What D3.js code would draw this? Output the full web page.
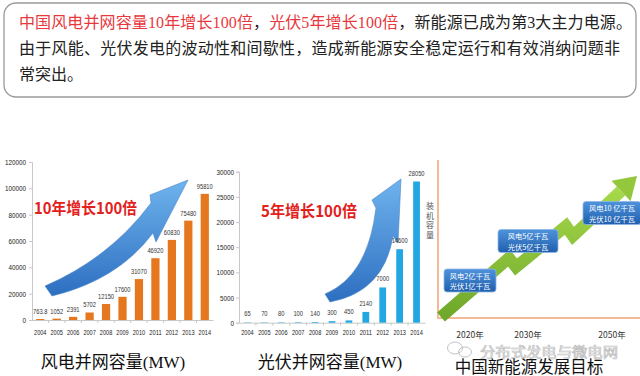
<!DOCTYPE html>
<html>
<head>
<meta charset="utf-8">
<script src="https://cdnjs.cloudflare.com/ajax/libs/d3/7.8.5/d3.min.js"></script>
<style>
  body { margin: 0; background: #fff; }
  svg { display: block; }
</style>
</head>
<body>
<div id="chart"></div>
<script>
// Data
const years = ["2004", "2005", "2006", "2007", "2008", "2009", "2010", "2011", "2012", "2013", "2014"];
const windValues = [763.8, 1052, 2391, 5702, 12150, 17600, 31070, 46920, 60830, 75480, 95810];
const pvValues = [65, 70, 80, 100, 140, 300, 450, 2140, 7000, 14600, 28050];
const windTicks = [0, 20000, 40000, 60000, 80000, 100000, 120000];
const pvTicks = [0, 5000, 10000, 15000, 20000, 25000, 30000];
const goalYears = [2020, 2030, 2050];
const goalWind = ["风电2亿千瓦", "风电5亿千瓦", "风电10 亿千瓦"];
const goalPv = ["光伏1亿千瓦", "光伏5亿千瓦", "光伏10 亿千瓦"];

const W = 640, H = 376;
const svg = d3.select("#chart").append("svg")
  .attr("width", W)
  .attr("height", H);

const cjk = "'Noto Sans CJK SC', sans-serif";
const textFont = "'Liberation Serif', 'Noto Sans CJK SC', serif";

// squeeze small labels so they look like a condensed font
function narrow(sel, perChar) {
  sel.attr("font-family", "'Liberation Sans', sans-serif")
    .style("font-size", "8px")
    .attr("lengthAdjust", "spacingAndGlyphs")
    .attr("textLength", function() {
      const t = this.textContent;
      return (t.replace(".", "").length + (t.includes(".") ? 0.5 : 0)) * perChar;
    });
}

const defs = svg.append("defs");

const blueGrad = defs.append("linearGradient")
  .attr("id", "blueArrow")
  .attr("x1", "0").attr("y1", "0").attr("x2", "0").attr("y2", "1");
blueGrad.append("stop").attr("offset", "0").attr("stop-color", "#6fb3ee");
blueGrad.append("stop").attr("offset", "1").attr("stop-color", "#2d6fc0");

const greenGrad = defs.append("linearGradient")
  .attr("id", "greenArrow")
  .attr("x1", "0").attr("y1", "0").attr("x2", "0").attr("y2", "1");
greenGrad.append("stop").attr("offset", "0").attr("stop-color", "#a6d84a");
greenGrad.append("stop").attr("offset", "1").attr("stop-color", "#6ea82a");

const boxGrad = defs.append("linearGradient")
  .attr("id", "boxGrad")
  .attr("x1", "0").attr("y1", "0").attr("x2", "0").attr("y2", "1");
boxGrad.append("stop").attr("offset", "0").attr("stop-color", "#4f93dc");
boxGrad.append("stop").attr("offset", "1").attr("stop-color", "#1f5fae");

// Top text box
svg.append("rect")
  .attr("x", 4).attr("y", 3)
  .attr("width", 632).attr("height", 94)
  .attr("rx", 12)
  .attr("fill", "#fff")
  .attr("stroke", "#9a9a9a")
  .attr("stroke-width", 1.3);

const line1 = svg.append("text")
  .attr("x", 19).attr("y", 28)
  .attr("font-family", textFont)
  .attr("font-size", 16)
  .attr("textLength", 613)
  .attr("lengthAdjust", "spacing");
line1.append("tspan").attr("fill", "#e8383d").text("中国风电并网容量10年增长100倍");
line1.append("tspan").attr("fill", "#222").text("，");
line1.append("tspan").attr("fill", "#e8383d").text("光伏5年增长100倍");
line1.append("tspan").attr("fill", "#222").text("，新能源已成为第3大主力电源。");

svg.append("text")
  .attr("x", 19).attr("y", 54)
  .attr("font-family", textFont)
  .attr("font-size", 16)
  .attr("fill", "#222")
  .attr("textLength", 601)
  .attr("lengthAdjust", "spacing")
  .text("由于风能、光伏发电的波动性和间歇性，造成新能源安全稳定运行和有效消纳问题非");

svg.append("text")
  .attr("x", 19).attr("y", 80)
  .attr("font-family", textFont)
  .attr("font-size", 16)
  .attr("fill", "#222")
  .text("常突出。");

// Bar chart helper
function drawBars(cfg) {
  const g = svg.append("g");

  const x = d3.scaleBand()
    .domain(years)
    .range([cfg.x0, cfg.x1])
    .paddingInner(cfg.pad)
    .paddingOuter(cfg.pad / 2);

  const y = d3.scaleLinear()
    .domain([0, cfg.ticks[cfg.ticks.length - 1]])
    .range([cfg.y0, cfg.y1]);

  // arrow behind bars
  g.append("path")
    .attr("d", cfg.arrow)
    .attr("fill", "url(#blueArrow)")
    .attr("stroke", "#4a86c8")
    .attr("stroke-width", 0.6);

  // y axis
  const yAxis = g.append("g")
    .attr("transform", `translate(${cfg.x0},0)`)
    .call(d3.axisLeft(y).tickValues(cfg.ticks).tickFormat(d3.format("d")).tickSize(3).tickPadding(cfg.yPad));
  yAxis.selectAll("path, line").attr("stroke", "#c8c8c8");
  yAxis.selectAll("text").attr("fill", "#222").call(narrow, 3.5);

  // x axis
  const xAxis = g.append("g")
    .attr("transform", `translate(0,${cfg.y0})`)
    .call(d3.axisBottom(x).tickSize(0).tickPadding(cfg.xPad));
  xAxis.select("path").attr("stroke", "#c8c8c8");
  xAxis.selectAll("text").attr("fill", "#222").call(narrow, 3.1);

  g.selectAll(".sep")
    .data(years.slice(1))
    .join("line")
    .attr("x1", d => x(d) - x.step() * x.paddingInner() / 2)
    .attr("x2", d => x(d) - x.step() * x.paddingInner() / 2)
    .attr("y1", cfg.y0)
    .attr("y2", cfg.y0 + 3)
    .attr("stroke", "#c8c8c8");

  // bars
  const vals = years.map((yr, i) => ({ year: yr, value: cfg.values[i] }));
  g.selectAll(".bar")
    .data(vals)
    .join("rect")
    .attr("x", d => x(d.year))
    .attr("y", d => y(d.value))
    .attr("width", x.bandwidth())
    .attr("height", d => cfg.y0 - y(d.value))
    .attr("fill", cfg.color);

  g.selectAll(".val")
    .data(vals)
    .join("text")
    .attr("x", d => x(d.year) + x.bandwidth() / 2)
    .attr("y", d => y(d.value) - cfg.labelGap)
    .attr("text-anchor", "middle")
    .attr("fill", "#333")
    .text(d => String(d.value))
    .call(narrow, 3.2);

  // big red annotation
  g.append("text")
    .attr("x", cfg.noteX).attr("y", cfg.noteY)
    .attr("font-family", cjk)
    .attr("font-weight", "bold")
    .attr("font-size", 16)
    .attr("fill", "#e3211c")
    .attr("textLength", cfg.noteLen)
    .attr("lengthAdjust", "spacingAndGlyphs")
    .text(cfg.note);

  // chart title
  g.append("text")
    .attr("x", cfg.titleX).attr("y", 368)
    .attr("text-anchor", "middle")
    .attr("font-family", textFont)
    .attr("font-size", 17)
    .attr("fill", "#111")
    .text(cfg.title);

  return { x, y };
}

drawBars({
  x0: 32, x1: 213, y0: 320, y1: 162, pad: 0.5,
  ticks: windTicks, values: windValues, color: "#e5771e",
  yPad: 3, xPad: 9, labelGap: 5,
  arrow: "M45,286 Q110,258 151,203 L150,195 L188,180 L156,242 L153,233 Q118,280 52,296 Z",
  note: "10年增长100倍", noteX: 34, noteY: 214, noteLen: 103,
  title: "风电并网容量(MW)", titleX: 113
});

drawBars({
  x0: 239, x1: 425, y0: 322.7, y1: 171.7, pad: 0.6,
  ticks: pvTicks, values: pvValues, color: "#22a7e2",
  yPad: 2, xPad: 7, labelGap: 6,
  arrow: "M325,294 Q368,276 376,208 L372,200 L401,179 L398,243 L393,236 Q384,292 330,302 Z",
  note: "5年增长100倍", noteX: 261, noteY: 217, noteLen: 96,
  title: "光伏并网容量(MW)", titleX: 330
});

// vertical label 装机容量
svg.append("g")
  .selectAll("text")
  .data("装机容量".split(""))
  .join("text")
  .attr("x", 430)
  .attr("y", (d, i) => 209 + i * 9.5)
  .attr("text-anchor", "middle")
  .attr("font-family", cjk)
  .attr("font-size", 8)
  .attr("fill", "#555")
  .text(d => d);

// Third panel: development goals
const goalX = d3.scaleLinear().domain(goalYears).range([470, 528, 612]);
const goalY = d3.scaleLinear().domain(goalYears).range([280.5, 241, 213]);

const p3 = svg.append("g");
p3.append("line")
  .attr("x1", 438).attr("x2", 438).attr("y1", 160).attr("y2", 318)
  .attr("stroke", "#f5b995").attr("stroke-width", 2);
p3.append("line")
  .attr("x1", 437).attr("x2", 640).attr("y1", 318).attr("y2", 318)
  .attr("stroke", "#f5b995").attr("stroke-width", 2);

// green zigzag arrow
const zig = [[441, 317], [509, 258], [516, 267], [566, 226], [573, 236], [621, 191]];
p3.append("path")
  .attr("d", d3.line()(zig))
  .attr("fill", "none")
  .attr("stroke", "url(#greenArrow)")
  .attr("stroke-width", 12)
  .attr("stroke-linejoin", "miter");
const last = zig[zig.length - 1], prev = zig[zig.length - 2];
const len = Math.hypot(last[0] - prev[0], last[1] - prev[1]);
const ux = (last[0] - prev[0]) / len, uy = (last[1] - prev[1]) / len;
const hw = 14, hl = 22;
p3.append("path")
  .attr("d", d3.line()([
    [last[0] - uy * hw, last[1] + ux * hw],
    [last[0] + ux * hl, last[1] + uy * hl],
    [last[0] + uy * hw, last[1] - ux * hw]
  ]) + "Z")
  .attr("fill", "#93c83c");

// goal boxes
const boxW = [52, 60, 58];
goalYears.forEach((yr, i) => {
  const cx = goalX(yr), cy = goalY(yr);
  p3.append("rect")
    .attr("x", cx - boxW[i] / 2).attr("y", cy - 11.5)
    .attr("width", boxW[i]).attr("height", 23)
    .attr("rx", 3)
    .attr("fill", "url(#boxGrad)")
    .attr("stroke", "#8fb8e6")
    .attr("stroke-width", 0.8);
  [goalWind[i], goalPv[i]].forEach((t, k) => {
    p3.append("text")
      .attr("x", cx).attr("y", cy + (k === 0 ? -5 : 5.5))
      .attr("dominant-baseline", "central")
      .attr("text-anchor", "middle")
      .attr("font-family", cjk)
      .attr("font-size", 7.3)
      .attr("fill", "#fff")
      .text(t);
  });
});

// year labels
p3.selectAll(".goalYear")
  .data(goalYears)
  .join("text")
  .attr("x", d => goalX(d))
  .attr("y", 338)
  .attr("text-anchor", "middle")
  .attr("font-family", cjk)
  .attr("font-size", 8.5)
  .attr("fill", "#333")
  .text(d => d + "年");

// watermark
const wm = svg.append("g").attr("fill", "none").attr("stroke", "#c2c2c2").attr("stroke-width", 1);
wm.append("ellipse").attr("cx", 455).attr("cy", 348).attr("rx", 7.5).attr("ry", 6);
wm.append("ellipse").attr("cx", 465).attr("cy", 352).attr("rx", 6.5).attr("ry", 5);
svg.append("text")
  .attr("x", 480).attr("y", 350.5)
  .attr("dominant-baseline", "central")
  .attr("font-family", cjk)
  .attr("font-size", 14)
  .attr("fill", "#fff")
  .attr("stroke", "#bdbdbd")
  .attr("stroke-width", 0.7)
  .attr("textLength", 138)
  .attr("lengthAdjust", "spacingAndGlyphs")
  .text("分布式发电与微电网");

svg.append("text")
  .attr("x", 529).attr("y", 365.5)
  .attr("dominant-baseline", "central")
  .attr("text-anchor", "middle")
  .attr("font-family", cjk)
  .attr("font-size", 16.5)
  .attr("fill", "#111")
  .text("中国新能源发展目标");
</script>
</body>
</html>
